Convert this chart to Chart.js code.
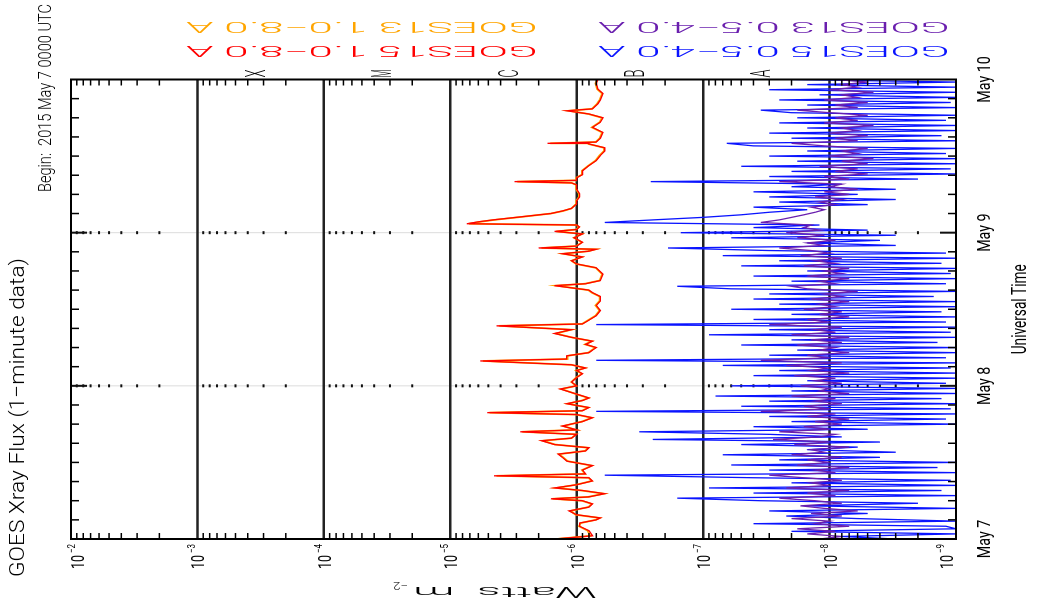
<!DOCTYPE html>
<html>
<head>
<meta charset="utf-8">
<script src="https://cdn.jsdelivr.net/npm/chart.js@4.4.0/dist/chart.umd.min.js"></script>
<style>
html, body { margin: 0; padding: 0; background: #fff; overflow: hidden; }
#page { position: relative; width: 1037px; height: 613px; overflow: hidden; background: #fff; }
#wrap { position: absolute; left: 212px; top: -212px; width: 613px; height: 1037px; transform: rotate(-90deg); }
</style>
</head>
<body>
<div id="page"><div id="wrap"><canvas id="xray" width="613" height="1037"></canvas></div></div>
<script>
// 1.0-8.0 A channels (hours after 2015 May 7 00:00 UTC, W m^-2)
var longHours = [0.0, 0.5, 1.3, 2.0, 2.5, 3.0, 3.3, 3.8, 4.4, 5.0, 5.5, 6.0, 6.3, 6.6, 7.1, 7.6, 8.0, 8.5, 9.1, 9.6,
  9.9, 10.2, 10.8, 11.5, 12.2, 12.8, 13.3, 13.8, 14.3, 14.8, 15.4, 15.8, 16.4, 16.8, 17.1, 17.7, 18.4, 19.0, 19.5, 19.8,
  20.1, 20.6, 21.2, 21.7, 22.1, 22.7, 23.5, 24.0, 24.6, 25.3, 25.9, 26.4, 26.8, 27.3, 27.9, 28.2, 28.7, 29.2, 29.6, 30.0,
  30.5, 31.0, 31.6, 32.2, 32.8, 33.4, 33.7, 34.3, 35.0, 35.8, 36.6, 37.3, 38.0, 38.6, 39.0, 39.7, 40.0, 40.5, 41.5, 42.5,
  43.1, 43.6, 44.2, 44.7, 45.1, 45.4, 45.6, 45.9, 46.5, 47.2, 47.8, 48.2, 48.5, 48.9, 49.2, 49.4, 49.7, 50.0, 50.5, 51.0,
  51.4, 51.8, 52.5, 53.0, 53.6, 54.1, 54.8, 55.5, 55.8, 56.0, 56.2, 56.6, 57.1, 57.7, 58.5, 59.3, 60.1, 60.8, 61.3, 61.9,
  62.0, 62.2, 62.8, 63.7, 64.5, 65.3, 66.0, 66.6, 67.1, 67.4, 68.2, 68.8, 69.8, 70.5, 71.4, 72.0];
// GOES15 1.0-8.0 A
var redFlux = [1.5e-6, 7.5e-7, 8e-7, 9.5e-7, 9.5e-7, 7e-7, 6.5e-7, 1e-6, 1.15e-6, 8e-7, 7.5e-7, 9e-7, 1.6e-6, 8e-7, 6e-7, 9e-7, 1.5e-6, 1e-6, 7.5e-7, 8e-7,
  4.5e-6, 8.5e-7, 9e-7, 7.5e-7, 1.2e-6, 1.3e-6, 1.4e-6, 8.5e-7, 8e-7, 1.5e-6, 1.9e-6, 1.1e-6, 1e-6, 2.8e-6, 1e-6, 1.3e-6, 9e-7, 7.5e-7, 1e-6, 5.1e-6,
  9e-7, 8e-7, 1.2e-6, 9e-7, 8e-7, 1e-6, 1.35e-6, 1e-6, 1.1e-6, 1e-6, 9e-7, 1e-6, 8.5e-7, 1.1e-6, 5.8e-6, 1.2e-6, 1.2e-6, 8e-7, 7.5e-7, 7e-7,
  8.5e-7, 7.5e-7, 1.1e-6, 1.5e-6, 1.1e-6, 4.3e-6, 9e-7, 8e-7, 7e-7, 6.5e-7, 7e-7, 6.5e-7, 6.5e-7, 7.5e-7, 8e-7, 1.5e-6, 8.5e-7, 6.5e-7, 6.2e-7, 7e-7,
  1e-6, 1.1e-6, 9e-7, 1.3e-6, 8e-7, 7e-7, 2e-6, 1e-6, 9e-7, 1.05e-6, 9e-7, 1.5e-6, 1e-6, 9.5e-7, 1e-6, 7.4e-6, 6e-6, 4.6e-6, 2.7e-6, 1.6e-6,
  1.3e-6, 1.1e-6, 1e-6, 1e-6, 9.5e-7, 9.5e-7, 1e-6, 1e-6, 1.1e-6, 3.1e-6, 1e-6, 1e-6, 9e-7, 9e-7, 8e-7, 7e-7, 6.5e-7, 6e-7, 6e-7, 8e-7,
  1.7e-6, 7e-7, 6.5e-7, 6.2e-7, 7.5e-7, 6.5e-7, 6.2e-7, 8e-7, 1.2e-6, 7.5e-7, 6.8e-7, 6.5e-7, 6.2e-7, 6.8e-7, 7e-7, 6.8e-7];
// GOES13 1.0-8.0 A (almost hidden under GOES15)
var orangeFlux = [1.45e-6, 7.8e-7, 8.2e-7, 9.6e-7, 9.3e-7, 7.1e-7, 6.6e-7, 1.02e-6, 1.12e-6, 8.1e-7, 7.6e-7, 9.1e-7, 1.55e-6, 8.1e-7, 6.1e-7, 9.2e-7, 1.45e-6, 1.01e-6, 7.6e-7, 8.1e-7,
  4.3e-6, 8.6e-7, 9.1e-7, 7.6e-7, 1.18e-6, 1.28e-6, 1.38e-6, 8.6e-7, 8.1e-7, 1.48e-6, 1.85e-6, 1.1e-6, 1.01e-6, 2.7e-6, 1.01e-6, 1.28e-6, 9.1e-7, 7.6e-7, 1.01e-6, 4.9e-6,
  9.1e-7, 8.1e-7, 1.18e-6, 9.1e-7, 8.1e-7, 1.01e-6, 1.32e-6, 1.01e-6, 1.1e-6, 1.01e-6, 9.1e-7, 1.01e-6, 8.6e-7, 1.1e-6, 5.5e-6, 1.18e-6, 1.18e-6, 8.1e-7, 7.6e-7, 7.1e-7,
  8.6e-7, 7.6e-7, 1.1e-6, 1.46e-6, 1.1e-6, 4.1e-6, 9.1e-7, 8.1e-7, 7.1e-7, 6.6e-7, 7.1e-7, 6.6e-7, 6.6e-7, 7.6e-7, 8.1e-7, 1.45e-6, 8.6e-7, 6.6e-7, 6.3e-7, 7.1e-7,
  1.01e-6, 1.1e-6, 9.1e-7, 1.28e-6, 8.1e-7, 7.1e-7, 1.9e-6, 1.01e-6, 9.1e-7, 1.05e-6, 9.1e-7, 1.45e-6, 1.01e-6, 9.6e-7, 1.01e-6, 7.1e-6, 5.8e-6, 4.5e-6, 2.65e-6, 1.6e-6,
  1.28e-6, 1.1e-6, 1.01e-6, 1.01e-6, 9.6e-7, 9.6e-7, 1.01e-6, 1.01e-6, 1.1e-6, 2.95e-6, 1.01e-6, 1.01e-6, 9.1e-7, 9.1e-7, 8.1e-7, 7.1e-7, 6.6e-7, 6.1e-7, 6.1e-7, 8.1e-7,
  1.62e-6, 7.1e-7, 6.6e-7, 6.3e-7, 7.6e-7, 6.6e-7, 6.3e-7, 8.1e-7, 1.16e-6, 7.6e-7, 6.9e-7, 6.6e-7, 6.3e-7, 6.9e-7, 7.1e-7, 6.9e-7];

// 0.5-4.0 A channels, one reading every 0.4 h from May 7 00:00
var shortStepHours = 0.4;
var blueFlux = [3e-9, 8e-9, 1e-9, 2e-8, 1e-9, 1.2e-9, 4e-8, 1e-9, 6e-9, 2.2e-8,
  5e-9, 3e-8, 1e-9, 1.5e-8, 2e-9, 3.5e-8, 1.6e-7, 1e-9, 4e-8, 1.3e-9,
  9e-8, 1e-9, 2e-8, 1.1e-9, 4e-8, 6e-7, 1e-9, 3e-8, 1.4e-9, 6e-8,
  1e-9, 2.5e-8, 4e-9, 7e-8, 3e-9, 1.5e-8, 6e-9, 5e-8, 4e-9, 2.5e-7,
  8e-9, 3e-8, 3.2e-7, 5e-9, 4e-8, 1e-9, 2e-8, 1.2e-9, 3e-8, 1e-9,
  7e-7, 1.1e-9, 5e-8, 1e-9, 3e-8, 1.3e-9, 8e-8, 1e-9, 2e-8, 1e-9,
  6e-8, 1.2e-9, 1.5e-8, 1e-9, 4e-8, 1e-9, 2.5e-8, 1.1e-9, 7e-8, 1e-9,
  7e-7, 1.2e-9, 3e-8, 1e-9, 1.8e-8, 1e-9, 5e-8, 1.4e-9, 2e-8, 1e-9,
  9e-8, 1.1e-9, 3e-8, 1e-9, 7e-7, 1.2e-9, 4e-8, 1e-9, 2e-8, 1.3e-9,
  6e-8, 1e-9, 2.5e-8, 1e-9, 4e-8, 1.5e-9, 3e-8, 1e-9, 6e-8, 1.6e-7,
  1.2e-9, 2e-8, 1e-9, 4e-8, 1.1e-9, 1.5e-8, 1e-9, 5e-8, 1.3e-9, 2.5e-8,
  1e-9, 7e-8, 1.2e-9, 3e-8, 1.9e-7, 3e-9, 1.5e-8, 4e-9, 6e-8, 3e-9,
  1.5e-7, 5e-9, 4e-8, 1.2e-8, 6e-7, 2.5e-7, 1e-7, 5e-8, 3e-8, 1.5e-8,
  4e-8, 5e-9, 2.5e-8, 3e-9, 3e-8, 6e-9, 4e-8, 3e-9, 2e-8, 8e-9,
  2.6e-7, 2e-9, 3e-8, 1e-9, 2e-8, 1.1e-9, 5e-8, 1e-9, 1.8e-8, 1e-9,
  3e-8, 1.2e-9, 1.5e-8, 1e-9, 4e-8, 6.5e-8, 1e-9, 2e-8, 1.3e-9, 3e-8,
  1e-9, 1.5e-8, 1e-9, 2.5e-8, 1.2e-9, 1.8e-8, 1e-9, 2e-8, 3.5e-8, 1e-9,
  1.5e-8, 1.1e-9, 2.5e-8, 1e-9, 1.2e-8, 1e-9, 3e-8, 1e-9, 1.5e-8, 1e-9, 2e-8];
var purpleFlux = [1.2e-8, 8e-9, 1.5e-8, 9e-9, 1.8e-8, 7e-9, 1.3e-8, 1e-8, 2e-8, 8e-9,
  1.4e-8, 6e-9, 1.1e-8, 1.7e-8, 8e-9, 1.3e-8, 2.5e-8, 9e-9, 1.5e-8, 7e-9,
  2.2e-8, 1e-8, 1.4e-8, 8e-9, 1.6e-8, 3e-8, 9e-9, 1.3e-8, 7e-9, 1.8e-8,
  1e-8, 1.5e-8, 8e-9, 2e-8, 1.1e-8, 1.4e-8, 7e-9, 1.9e-8, 1e-8, 2.8e-8,
  1.2e-8, 9e-9, 2.5e-8, 1e-8, 1.6e-8, 8e-9, 1.3e-8, 7e-9, 1.5e-8, 9e-9,
  3.5e-8, 1e-8, 1.6e-8, 8e-9, 1.3e-8, 9e-9, 2e-8, 7e-9, 1.2e-8, 1e-8,
  1.7e-8, 8e-9, 1.3e-8, 9e-9, 1.9e-8, 7e-9, 1.4e-8, 1e-8, 2.2e-8, 8e-9,
  3.5e-8, 1e-8, 1.5e-8, 7e-9, 1.2e-8, 9e-9, 1.8e-8, 8e-9, 1.4e-8, 7e-9,
  2e-8, 9e-9, 1.3e-8, 8e-9, 3e-8, 1e-8, 1.5e-8, 7e-9, 1.2e-8, 8e-9,
  1.6e-8, 9e-9, 1.2e-8, 7e-9, 1.4e-8, 8e-9, 1.1e-8, 6e-9, 1.5e-8, 2e-8,
  9e-9, 1.2e-8, 7e-9, 1.5e-8, 8e-9, 1.1e-8, 7e-9, 1.6e-8, 9e-9, 1.3e-8,
  8e-9, 1.7e-8, 1e-8, 1.4e-8, 2.5e-8, 1.1e-8, 1.5e-8, 9e-9, 1.8e-8, 1.1e-8,
  2.2e-8, 1.2e-8, 1.6e-8, 1.4e-8, 3.5e-8, 2.5e-8, 2e-8, 1.6e-8, 1.3e-8, 1.1e-8,
  1.4e-8, 9e-9, 1.2e-8, 8e-9, 1.3e-8, 7e-9, 1.1e-8, 6e-9, 1e-8, 8e-9,
  2.5e-8, 7e-9, 1.1e-8, 5e-9, 9e-9, 6e-9, 1.2e-8, 5e-9, 8e-9, 4.5e-9,
  1e-8, 6e-9, 8e-9, 5e-9, 1.1e-8, 2e-8, 6e-9, 9e-9, 5e-9, 1e-8,
  6e-9, 8e-9, 4.5e-9, 1.1e-8, 6e-9, 9e-9, 5e-9, 1e-8, 1.8e-8, 6e-9,
  9e-9, 5e-9, 1.1e-8, 6e-9, 8e-9, 4.5e-9, 1e-8, 6e-9, 8e-9, 5e-9, 9e-9];

// axes
var dayHours = [0, 24, 48, 72];
var dayLabels = ['May 7', 'May 8', 'May 9', 'May 10'];
var decadeFlux = [1e-2, 1e-3, 1e-4, 1e-5, 1e-6, 1e-7, 1e-8, 1e-9];
var decadeExponents = ['−2', '−3', '−4', '−5', '−6', '−7', '−8', '−9'];
var classLetters = ['X', 'M', 'C', 'B', 'A'];
var classFlux = [3.16e-4, 3.16e-5, 3.16e-6, 3.16e-7, 3.16e-8];
var legendRows = [
  ['GOES13 1.0−8.0 A', 'GOES13 0.5−4.0 A'],
  ['GOES15 1.0−8.0 A', 'GOES15 0.5−4.0 A']
];

var RED = '#ff0000', ORANGE = '#ffa500', PURPLE = '#6a1fae', BLUE = '#0a14ff';
var legendColors = [[ORANGE, PURPLE], [RED, BLUE]];
var SANS = 'Roboto, "Liberation Sans", Arial, sans-serif';

function pairs(hours, flux) {
  return hours.map(function(h, i) { return { x: h, y: flux[i] }; });
}
function stepped(flux) {
  return flux.map(function(f, i) { return { x: i * shortStepHours, y: f }; });
}

// minor log tick values 2..9 x 10^k
var minorFlux = [];
for (var k = -9; k <= -3; k++) {
  for (var m = 2; m <= 9; m++) minorFlux.push(Number((m * Math.pow(10, k)).toPrecision(3)));
}

function drawText(ctx, s, x, y, o) {
  ctx.save();
  ctx.translate(x, y);
  ctx.rotate(o.rot || 0);
  ctx.font = (o.weight || 300) + ' ' + o.size + 'px ' + (o.family || SANS);
  var w = ctx.measureText(s).width;
  var sx = o.len ? o.len / w : (o.sx || 1);
  ctx.scale(sx, 1);
  ctx.textAlign = o.align || 'left';
  ctx.textBaseline = 'alphabetic';
  ctx.fillStyle = o.color || '#000';
  ctx.fillText(s, 0, 0);
  ctx.restore();
}

function line(ctx, x1, y1, x2, y2) {
  ctx.beginPath(); ctx.moveTo(x1, y1); ctx.lineTo(x2, y2); ctx.stroke();
}

// the canvas is turned a quarter turn on the page, so draw the frame in page coordinates
function pageCoords(chart) {
  var xs = chart.scales.x, ys = chart.scales.y, W = chart.width;
  return {
    fx: function(f) { return ys.getPixelForValue(f); },
    ty: function(h) { return W - xs.getPixelForValue(h); },
    W: W
  };
}

var frame = {
  id: 'goesFrame',
  beforeDatasetsDraw: function(chart) {
    var ctx = chart.ctx, p = pageCoords(chart);
    var top = p.ty(72), bot = p.ty(0), left = p.fx(1e-2), right = p.fx(1e-9);
    ctx.save();
    ctx.transform(0, 1, -1, 0, p.W, 0);
    // day boundaries: faint line with dots on the minor decades
    dayHours.slice(1, -1).forEach(function(h) {
      var y = p.ty(h);
      ctx.strokeStyle = '#dcdcdc'; ctx.lineWidth = 1;
      line(ctx, left, y, right, y);
      ctx.fillStyle = '#111';
      minorFlux.forEach(function(f) { ctx.fillRect(p.fx(f) - 1, y - 1.5, 2, 3); });
      ctx.fillRect(left, y - 1, 16, 2);
      ctx.fillRect(right - 16, y - 1, 16, 2);
    });
    // decade lines
    ctx.strokeStyle = '#222'; ctx.lineWidth = 2.5;
    decadeFlux.slice(1, -1).forEach(function(f) { line(ctx, p.fx(f), top, p.fx(f), bot); });
    ctx.restore();
  },
  afterDraw: function(chart) {
    var ctx = chart.ctx, p = pageCoords(chart);
    var top = p.ty(72), bot = p.ty(0), left = p.fx(1e-2), right = p.fx(1e-9);
    var Q = Math.PI / 2;
    ctx.save();
    ctx.transform(0, 1, -1, 0, p.W, 0);

    ctx.strokeStyle = '#000'; ctx.lineWidth = 2;
    ctx.strokeRect(left, top, right - left, bot - top);

    // minor log ticks on top and bottom edges
    ctx.lineWidth = 1.5;
    minorFlux.forEach(function(f) {
      var x = p.fx(f);
      line(ctx, x, top, x, top + 6);
      line(ctx, x, bot, x, bot - 6);
    });
    // 3-hour ticks on left and right edges
    for (var h = 3; h < 72; h += 3) {
      if (h % 24 === 0) continue;
      var y = p.ty(h);
      line(ctx, left, y, left + 8, y);
      line(ctx, right, y, right - 8, y);
    }

    // flux tick labels
    decadeFlux.forEach(function(f, i) {
      var cx = Math.min(Math.max(p.fx(f), 77), 946);
      drawText(ctx, '10', cx + 7, 569, { rot: -Q, size: 18, len: 14, weight: 400 });
      drawText(ctx, decadeExponents[i], cx - 2, 553, { rot: -Q, size: 11, len: 9, weight: 400 });
    });
    drawText(ctx, 'Watts  m', 597, 587, { rot: Math.PI, size: 15, len: 184 });
    drawText(ctx, '−2', 408, 582, { rot: Math.PI, size: 10, len: 15 });

    // time labels
    dayHours.forEach(function(h, i) {
      drawText(ctx, dayLabels[i], 990, p.ty(h), { rot: -Q, size: 19, sx: 0.75, align: 'center', weight: 400 });
    });
    drawText(ctx, 'Universal Time', 1026, (top + bot) / 2, { rot: -Q, size: 20, len: 90, align: 'center', weight: 400 });

    // flare classes
    classLetters.forEach(function(c, i) {
      drawText(ctx, c, p.fx(classFlux[i]) + 4, 73.5, { rot: -Q, size: 28, len: 8, align: 'center' });
    });

    // titles
    drawText(ctx, 'GOES Xray Flux (1−minute data)', 24, 577, { rot: -Q, size: 21, len: 319 });
    drawText(ctx, 'Begin:  2015 May 7 0000 UTC', 51, 192, { rot: -Q, size: 18, len: 188 });

    // legend
    var rowY = [22, 46.5], colX = [538, 950];
    legendRows.forEach(function(row, r) {
      row.forEach(function(txt, c) {
        drawText(ctx, txt, colX[c], rowY[r], { rot: Math.PI, size: 15, len: 352, color: legendColors[r][c] });
      });
    });
    ctx.restore();
  }
};

new Chart(document.getElementById('xray'), {
  type: 'line',
  data: {
    datasets: [
      { label: 'GOES15 1.0-8.0 A', data: pairs(longHours, redFlux), borderColor: RED, borderWidth: 1.3 },
      { label: 'GOES13 1.0-8.0 A', data: pairs(longHours, orangeFlux), borderColor: ORANGE, borderWidth: 1.8 },
      { label: 'GOES13 0.5-4.0 A', data: stepped(purpleFlux), borderColor: PURPLE, borderWidth: 1.3 },
      { label: 'GOES15 0.5-4.0 A', data: stepped(blueFlux), borderColor: BLUE, borderWidth: 1.3 }
    ]
  },
  options: {
    responsive: false,
    animation: false,
    devicePixelRatio: 1,
    events: [],
    layout: { padding: { top: 71, right: 79.5, bottom: 0, left: 0 } },
    elements: { point: { radius: 0, hoverRadius: 0 }, line: { tension: 0, fill: false } },
    plugins: { legend: { display: false }, tooltip: { enabled: false }, title: { display: false } },
    scales: {
      x: { type: 'linear', min: 0, max: 72, grid: { display: false }, border: { display: false },
           ticks: { display: false }, afterFit: function(s) { s.height = 81; } },
      y: { type: 'logarithmic', min: 1e-9, max: 1e-2, grid: { display: false }, border: { display: false },
           ticks: { display: false }, afterFit: function(s) { s.width = 74; } }
    }
  },
  plugins: [frame]
});
</script>
</body>
</html>
